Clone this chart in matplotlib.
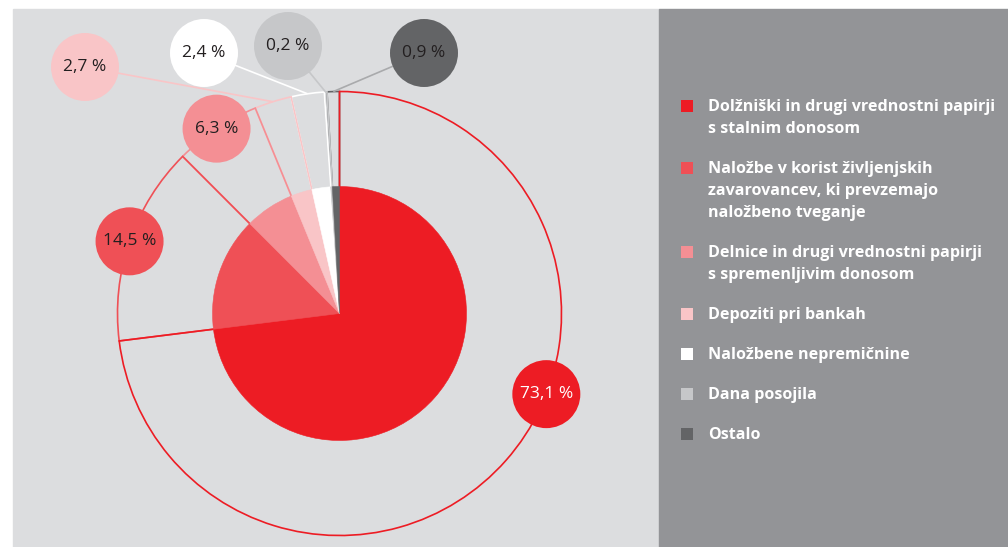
import numpy as np
import matplotlib.pyplot as plt
from matplotlib.patches import Circle, Rectangle

W, H = 1008, 547

# data
categories = ['Dolžniški in drugi vrednostni papirji\ns stalnim donosom',
              'Naložbe v korist življenjskih\nzavarovancev, ki prevzemajo\nnaložbeno tveganje',
              'Delnice in drugi vrednostni papirji\ns spremenljivim donosom',
              'Depoziti pri bankah',
              'Naložbene nepremičnine',
              'Dana posojila',
              'Ostalo']
shares = [73.1, 14.5, 6.3, 2.7, 2.4, 0.2, 0.9]

colors = ['#ed1c24', '#ef5056', '#f48f94', '#f9c5c7', '#ffffff', '#c6c7c9', '#636466']
link_colors = ['#ed1c24', '#ef5056', '#f48f94', '#f9c5c7', '#ffffff', '#c6c7c9', '#a9aaac']
text_colors = ['white'] + ['#231f20'] * 6

# layout (image pixels, y down)
cx, cy = 339.5, 313.5
r_in, r_out = 127, 222
r_lab = 34
# label on the outer arc at given angle (None = arc middle) or free position
label_at = [('arc', -21.3), ('arc', None), ('arc', None),
            ('xy', (85, 67)), ('xy', (204, 53)), ('xy', (288, 46)), ('xy', (424, 53))]

plt.rcParams['font.family'] = ['Open Sans', 'DejaVu Sans']

fig = plt.figure(figsize=(W / 100, H / 100), dpi=100)
ax = fig.add_axes([0, 0, 1, 1])


def Y(y):
    return H - y


ax.add_patch(Rectangle((13, 0), 659 - 13, H - 9, color='#dcdddf', zorder=0))
ax.add_patch(Rectangle((659, 0), W - 659, H - 9, color='#939497', zorder=0))

# outer outlines
outer, _ = ax.pie(shares, startangle=90, counterclock=False, radius=r_out,
                  center=(cx, Y(cy)), wedgeprops=dict(fill=False, lw=1.2))
n = len(shares)
for i, w in enumerate(outer):
    w.set_edgecolor(colors[i])
    w.set_zorder(1 + (n - i) * 0.01)

# inner pie
inner, _ = ax.pie(shares, colors=colors, startangle=90, counterclock=False, radius=r_in,
                  center=(cx, Y(cy)), wedgeprops=dict(lw=0.4))
for w in inner:
    w.set_edgecolor(w.get_facecolor())
    w.set_zorder(3)

total = sum(shares)
cum = np.concatenate([[0], np.cumsum(shares)])
for i, v in enumerate(shares):
    a0 = 90 - 360 * cum[i] / total
    a1 = 90 - 360 * cum[i + 1] / total
    mid = np.radians((a0 + a1) / 2)
    ax_, ay_ = cx + r_out * np.cos(mid), Y(cy) + r_out * np.sin(mid)
    kind, p = label_at[i]
    if kind == 'arc':
        ang = np.radians(p) if p is not None else mid
        lx, ly = cx + r_out * np.cos(ang), Y(cy) + r_out * np.sin(ang)
    else:
        lx, ly = p[0], Y(p[1])
        ax.plot([lx, ax_], [ly, ay_], color=link_colors[i], lw=1.2, zorder=4,
                solid_capstyle='butt')
    ax.add_patch(Circle((lx, ly), r_lab, color=colors[i], zorder=5, lw=0))
    txt = f'{v:.1f}'.replace('.', ',') + ' %'
    ax.text(lx, ly, txt, ha='center', va='center', fontsize=12.5,
            color=text_colors[i], zorder=6)

# legend
y = 111
for i, lab in enumerate(categories):
    lines = lab.split('\n')
    ax.add_patch(Rectangle((681, Y(y - 5) - 6), 12, 12, color=colors[i], lw=0, zorder=2))
    for j, line in enumerate(lines):
        ax.text(708, Y(y + j * 22), line, ha='left', va='baseline', fontsize=11.6,
                fontweight='bold', color='white', zorder=2)
    y += (len(lines) - 1) * 22 + 40

ax.set_xlim(0, W)
ax.set_ylim(0, H)
ax.set_aspect('auto')
ax.axis('off')

fig.savefig('out.png', dpi=100, facecolor='white')
